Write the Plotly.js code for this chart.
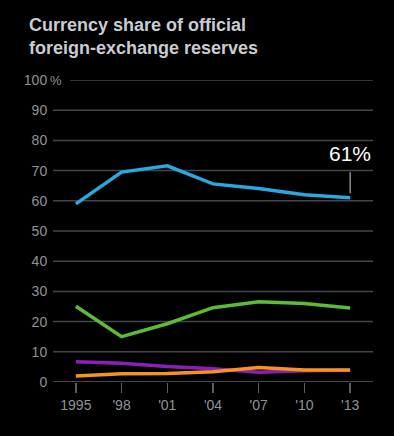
<!DOCTYPE html>
<html>
<head>
<meta charset="utf-8">
<script src="https://cdn.plot.ly/plotly-3.0.1.min.js"></script>
<style>html,body{margin:0;padding:0;background:#000;}#chart{width:394px;height:436px;}</style>
</head>
<body>
<div id="chart"></div>
<script>
var years = [1995, 1998, 2001, 2004, 2007, 2010, 2013];
var yearLabels = ['1995', "'98", "'01", "'04", "'07", "'10", "'13"];
var dollar = [59.0, 69.5, 71.6, 65.6, 64.1, 62.0, 61.0];
var euro = [25.1, 15.0, 19.3, 24.6, 26.6, 26.0, 24.5];
var yen = [6.7, 6.2, 5.1, 4.4, 3.2, 3.7, 3.9];
var pound = [2.0, 2.7, 2.8, 3.4, 4.8, 4.0, 4.0];
var yTicks = [0, 10, 20, 30, 40, 50, 60, 70, 80, 90, 100];
var yTickLabels = ['0', '10', '20', '30', '40', '50', '60', '70', '80', '90', '100'];
var lastLabel = '61%';

var font = 'Liberation Sans, Arial, sans-serif';
function line(y, color) {
  return {x: years, y: y, type: 'scatter', mode: 'lines',
    line: {color: color, width: 3.5}, hoverinfo: 'skip', cliponaxis: false};
}
var traces = [
  line(euro, '#5cbd35'),
  line(yen, '#8a1fb8'),
  line(pound, '#f7941d'),
  line(dollar, '#29a9e0')
];

var shapes = [];
yTicks.forEach(function (v) {
  shapes.push({type: 'line', xref: 'paper', yref: 'y',
    x0: v === 100 ? 17 / 320 : 0, x1: 1, y0: v, y1: v,
    line: {color: v === 0 ? '#5a5e66' : '#42464d', width: 1.5}, layer: 'below'});
});
shapes.push({type: 'line', xref: 'x', yref: 'y', x0: 2013, x1: 2013,
  y0: dollar[6] + 1.5, y1: dollar[6] + 8.5, line: {color: '#d0d0d0', width: 1}});

var layout = {
  width: 394, height: 436,
  paper_bgcolor: '#000', plot_bgcolor: '#000',
  showlegend: false,
  margin: {l: 53, r: 21, t: 80, b: 54, pad: 0},
  title: {text: 'Currency share of official<br>foreign-exchange reserves',
    font: {family: font, size: 18, color: '#c9ccd1', weight: 'bold'},
    xref: 'container', yref: 'container', x: 29 / 394, xanchor: 'left',
    y: 1 - 31 / 436, yanchor: 'top'},
  xaxis: {range: [1993.5, 2014.5], tickvals: years, ticktext: yearLabels,
    showgrid: false, zeroline: false, showline: false,
    ticks: 'outside', ticklen: 10, tickwidth: 1.5, tickcolor: '#5a5e66',
    tickfont: {family: font, size: 14, color: '#8f939a'}, fixedrange: true},
  yaxis: {range: [0, 100], tickvals: yTicks, ticktext: yTickLabels,
    showgrid: false, zeroline: false, showline: false,
    ticks: 'outside', ticklen: 2, tickcolor: 'rgba(0,0,0,0)',
    tickfont: {family: font, size: 14, color: '#8f939a'}, fixedrange: true},
  shapes: shapes,
  annotations: [
    {xref: 'paper', yref: 'y', x: -0.016, y: 100, text: '%', showarrow: false,
      xanchor: 'left', yanchor: 'middle', font: {family: font, size: 13, color: '#8f939a'}},
    {xref: 'x', yref: 'y', x: 2013, y: dollar[6] + 14.5, text: lastLabel, showarrow: false,
      xanchor: 'center', yanchor: 'middle', font: {family: font, size: 21, color: '#ffffff'}}
  ]
};
Plotly.newPlot('chart', traces, layout, {staticPlot: true, displayModeBar: false});
</script>
</body>
</html>
